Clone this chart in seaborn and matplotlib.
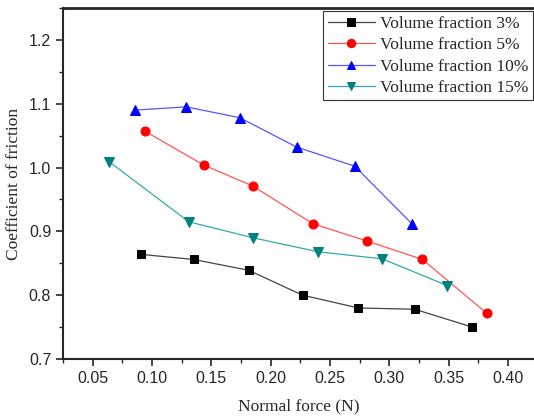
import matplotlib
matplotlib.use("Agg")
import matplotlib.pyplot as plt
import seaborn as sns
import pandas as pd
from matplotlib.ticker import MultipleLocator

x3 = [0.0905, 0.135, 0.1815, 0.227, 0.274, 0.3215, 0.370]
y3 = [0.864, 0.856, 0.839, 0.800, 0.780, 0.778, 0.750]
x5 = [0.094, 0.1435, 0.185, 0.2355, 0.281, 0.328, 0.382]
y5 = [1.057, 1.004, 0.971, 0.912, 0.885, 0.856, 0.772]
x10 = [0.086, 0.129, 0.174, 0.222, 0.271, 0.319]
y10 = [1.090, 1.095, 1.078, 1.032, 1.002, 0.912]
x15 = [0.064, 0.131, 0.185, 0.240, 0.294, 0.349]
y15 = [1.009, 0.915, 0.890, 0.868, 0.857, 0.815]
labels = ["Volume fraction 3%", "Volume fraction 5%", "Volume fraction 10%", "Volume fraction 15%"]
colors = ["black", "red", "blue", "#008080"]
line_colors = ["#444444", "#ff5555", "#5555ff", "#33aaaa"]
markers = ["s", "o", "^", "v"]
msizes = [6, 6.5, 7, 7]

frames = []
for lab, xs, ys in zip(labels, [x3, x5, x10, x15], [y3, y5, y10, y15]):
    frames.append(pd.DataFrame({"x": xs, "y": ys, "series": lab}))
df = pd.concat(frames, ignore_index=True)

sns.set_style("ticks")
fig = plt.figure(figsize=(5.34, 4.17), dpi=100)
ax = fig.add_axes([0.118, 0.139, 0.882, 0.842])

for lab, c, lc, m, ms in zip(labels, colors, line_colors, markers, msizes):
    sub = df[df["series"] == lab]
    sns.lineplot(data=sub, x="x", y="y", ax=ax, color=lc, linewidth=0.9,
                 marker=m, markersize=ms, markerfacecolor=c, markeredgecolor=c,
                 label=lab, sort=False)

ax.set_xlim(0.025, 0.422)
ax.set_ylim(0.7, 1.25)
ax.xaxis.set_minor_locator(MultipleLocator(0.025))
ax.yaxis.set_minor_locator(MultipleLocator(0.05))
ax.set_xticks([0.05, 0.10, 0.15, 0.20, 0.25, 0.30, 0.35, 0.40])
ax.set_xticklabels(["0.05", "0.10", "0.15", "0.20", "0.25", "0.30", "0.35", "0.40"])
ax.set_yticks([0.7, 0.8, 0.9, 1.0, 1.1, 1.2])
ax.set_yticklabels(["0.7", "0.8", "0.9", "1.0", "1.1", "1.2"])
for lbl in ax.get_xticklabels() + ax.get_yticklabels():
    lbl.set_family("Liberation Sans")
    lbl.set_fontsize(11.5)
ax.tick_params(which="major", direction="out", length=5, width=1.2)
ax.tick_params(which="minor", direction="out", length=3, width=1.0)

ax.spines["right"].set_visible(False)
ax.spines["top"].set_linewidth(2.0)
ax.spines["left"].set_linewidth(1.5)
ax.spines["bottom"].set_linewidth(1.5)

ax.set_xlabel("Normal force (N)", family="Liberation Serif", fontsize=12.5, labelpad=9)
ax.set_ylabel("Coefficient of friction", family="Liberation Serif", fontsize=12.5, labelpad=5)

leg = ax.legend(loc="upper right", bbox_to_anchor=(0.997, 0.99), prop={"family": "Liberation Serif", "size": 12.5},
                frameon=True, fancybox=False, edgecolor="#333333", framealpha=1,
                borderpad=0.25, labelspacing=0.3, handlelength=2.7, handletextpad=0.3, borderaxespad=0.0)
leg.get_frame().set_linewidth(0.8)
for h in leg.legend_handles:
    h.set_markersize(6)

fig.savefig("out.png", dpi=100)
